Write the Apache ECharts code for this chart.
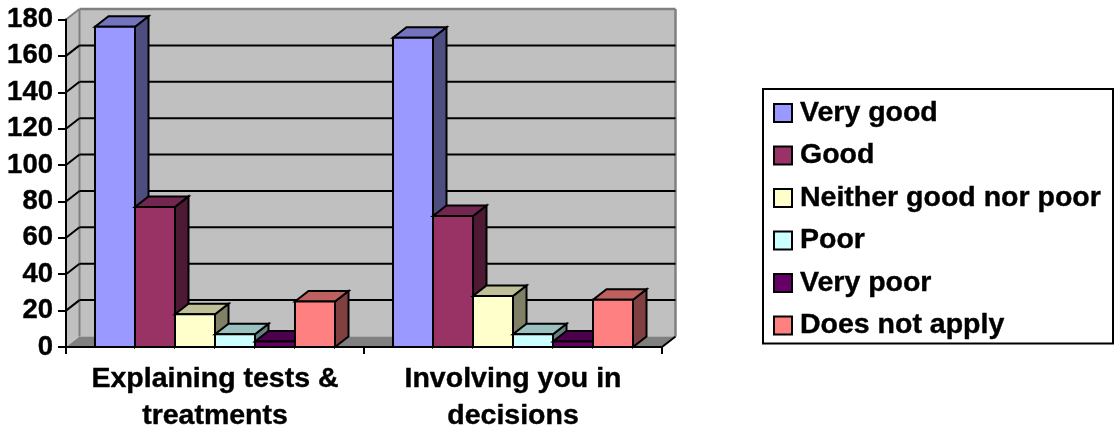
<!DOCTYPE html>
<html>
<head>
<meta charset="utf-8">
<style>html,body{margin:0;padding:0;background:#fff}#chart{width:1119px;height:433px}</style>
<script src="https://cdn.jsdelivr.net/npm/echarts@6/dist/echarts.min.js"></script>
</head>
<body>
<div id="chart"></div>
<script>
// Survey ratings by question
const categories = ['Explaining tests &\ntreatments', 'Involving you in\ndecisions'];
const ratingNames = ['Very good', 'Good', 'Neither good nor poor', 'Poor', 'Very poor', 'Does not apply'];
const veryGood = [176, 170];
const good = [77, 72];
const neither = [18, 28];
const poor = [7, 7];
const veryPoor = [3, 3];
const notApply = [25, 26];
const ratingValues = [veryGood, good, neither, poor, veryPoor, notApply];
const frontColors = ['#9999FF', '#993366', '#FFFFCC', '#CCFFFF', '#660066', '#FF8080'];
const topColors = ['#7373BF', '#732650', '#BFBF99', '#99BFBF', '#4D004D', '#BF6060'];
const sideColors = ['#4D4D80', '#4D1933', '#808066', '#668080', '#330033', '#804040'];
const gridTicks = [20, 40, 60, 80, 100, 120, 140, 160];

// Oblique projection of the chart's depth
const DEPTH_X = 13.5;
const DEPTH_Y = -10.5;
const FONT = '"Liberation Sans", Arial, sans-serif';
const BAND_FILL = 240 / 298;

const shift = p => [p[0] + DEPTH_X, p[1] + DEPTH_Y];
const polygon = (points, fill, stroke, width) => ({
  type: 'polygon',
  shape: { points },
  style: { fill, stroke: stroke || null, lineWidth: width || 0, lineJoin: 'miter' }
});
const segment = (a, b, stroke, width) => ({
  type: 'line',
  shape: { x1: a[0], y1: a[1], x2: b[0], y2: b[1] },
  style: { stroke, lineWidth: width, fill: null }
});

// Back wall, side wall and floor
function renderWalls(params, api) {
  const cs = params.coordSys;
  const bl = [cs.x, cs.y + cs.height];
  const tl = [cs.x, cs.y];
  const br = [cs.x + cs.width, cs.y + cs.height];
  const tr = [cs.x + cs.width, cs.y];
  const bbl = shift(bl), btl = shift(tl), bbr = shift(br), btr = shift(tr);
  return {
    type: 'group',
    children: [
      polygon([btl, btr, bbr, bbl], '#C0C0C0'),
      polygon([tl, btl, bbl, bl], '#C0C0C0'),
      polygon([bl, bbl, bbr, br], '#808080'),
      segment(tl, btl, '#808080', 2),
      segment(btl, btr, '#808080', 2.5),
      segment(btr, bbr, '#808080', 2.5),
      segment(btl, bbl, '#808080', 2),
      segment(br, bbr, '#000', 2)
    ]
  };
}

// Horizontal rules carried round the side wall and along the back wall
function renderGridLine(params, api) {
  const cs = params.coordSys;
  const y = api.coord([0, api.value(0)])[1];
  const a = [cs.x, y];
  const b = shift(a);
  const c = [cs.x + cs.width + DEPTH_X, b[1]];
  return {
    type: 'group',
    children: [segment(a, b, '#000', 2), segment(b, c, '#000', 2)]
  };
}

// One box: front, top and right-hand faces
function makeBoxRenderer(index) {
  return function (params, api) {
    const catIndex = api.value(0);
    const band = api.size([1, 0])[0];
    const barWidth = band * BAND_FILL / ratingNames.length;
    const center = api.coord([catIndex, 0]);
    const topPoint = api.coord([catIndex, api.value(1)]);
    const x0 = center[0] - band * BAND_FILL / 2 + index * barWidth;
    const x1 = x0 + barWidth;
    const fl = [x0, center[1]], fr = [x1, center[1]];
    const tl = [x0, topPoint[1]], tr = [x1, topPoint[1]];
    return {
      type: 'group',
      children: [
        polygon([fr, tr, shift(tr), shift(fr)], sideColors[index], '#000', 2),
        polygon([tl, tr, shift(tr), shift(tl)], topColors[index], '#000', 2),
        polygon([fl, tl, tr, fr], frontColors[index], '#000', 2)
      ]
    };
  };
}

const boxSeries = ratingNames.map((name, i) => ({
  name,
  type: 'custom',
  z: 5,
  silent: true,
  itemStyle: { color: frontColors[i] },
  encode: { x: 0, y: 1 },
  data: ratingValues[i].map((v, c) => [c, v]),
  renderItem: makeBoxRenderer(i)
}));

const chart = echarts.init(document.getElementById('chart'), null, { renderer: 'canvas' });
chart.setOption({
  animation: false,
  backgroundColor: '#fff',
  grid: { left: 66, top: 19.5, width: 596, height: 327.5, containLabel: false, outerBoundsMode: 'none' },
  xAxis: {
    type: 'category',
    data: categories,
    z: 3,
    boundaryGap: true,
    axisLine: { show: true, onZero: false, lineStyle: { color: '#000', width: 2 } },
    axisTick: { show: true, length: 7, alignWithLabel: false, lineStyle: { color: '#000', width: 2 } },
    axisLabel: {
      color: '#000', fontFamily: FONT, fontWeight: 'bold', fontSize: 28.5,
      textBorderColor: '#000', textBorderWidth: 0.4,
      lineHeight: 37, margin: 14, interval: 0
    }
  },
  yAxis: {
    type: 'value',
    min: 0,
    max: 180,
    interval: 20,
    z: 3,
    splitLine: { show: false },
    axisLine: { show: true, lineStyle: { color: '#000', width: 2 } },
    axisTick: { show: true, length: 8, lineStyle: { color: '#000', width: 2 } },
    axisLabel: {
      color: '#000', fontFamily: FONT, fontWeight: 'bold', fontSize: 27.5,
      textBorderColor: '#000', textBorderWidth: 0.4, margin: 13
    }
  },
  legend: {
    orient: 'vertical',
    left: 763,
    top: 89,
    padding: [9, 12, 3, 10],
    backgroundColor: '#fff',
    borderColor: '#000',
    borderWidth: 2,
    borderRadius: 0,
    itemWidth: 18,
    itemHeight: 18,
    itemGap: 12.5,
    selectedMode: false,
    data: ratingNames.map(name => ({ name, icon: 'rect' })),
    itemStyle: { borderColor: '#000', borderWidth: 2 },
    textStyle: {
      color: '#000', fontFamily: FONT, fontWeight: 'bold', fontSize: 28.5, lineHeight: 30,
      textBorderColor: '#000', textBorderWidth: 0.4, padding: [0, 0, 0, 3]
    }
  },
  series: [
    { name: 'walls', type: 'custom', z: 1, silent: true, data: [[0, 0]], encode: { x: 0, y: 1 }, renderItem: renderWalls },
    { name: 'rules', type: 'custom', z: 1, silent: true, data: gridTicks.map(v => [v]), encode: { y: 0 }, renderItem: renderGridLine }
  ].concat(boxSeries)
});
</script>
</body>
</html>
